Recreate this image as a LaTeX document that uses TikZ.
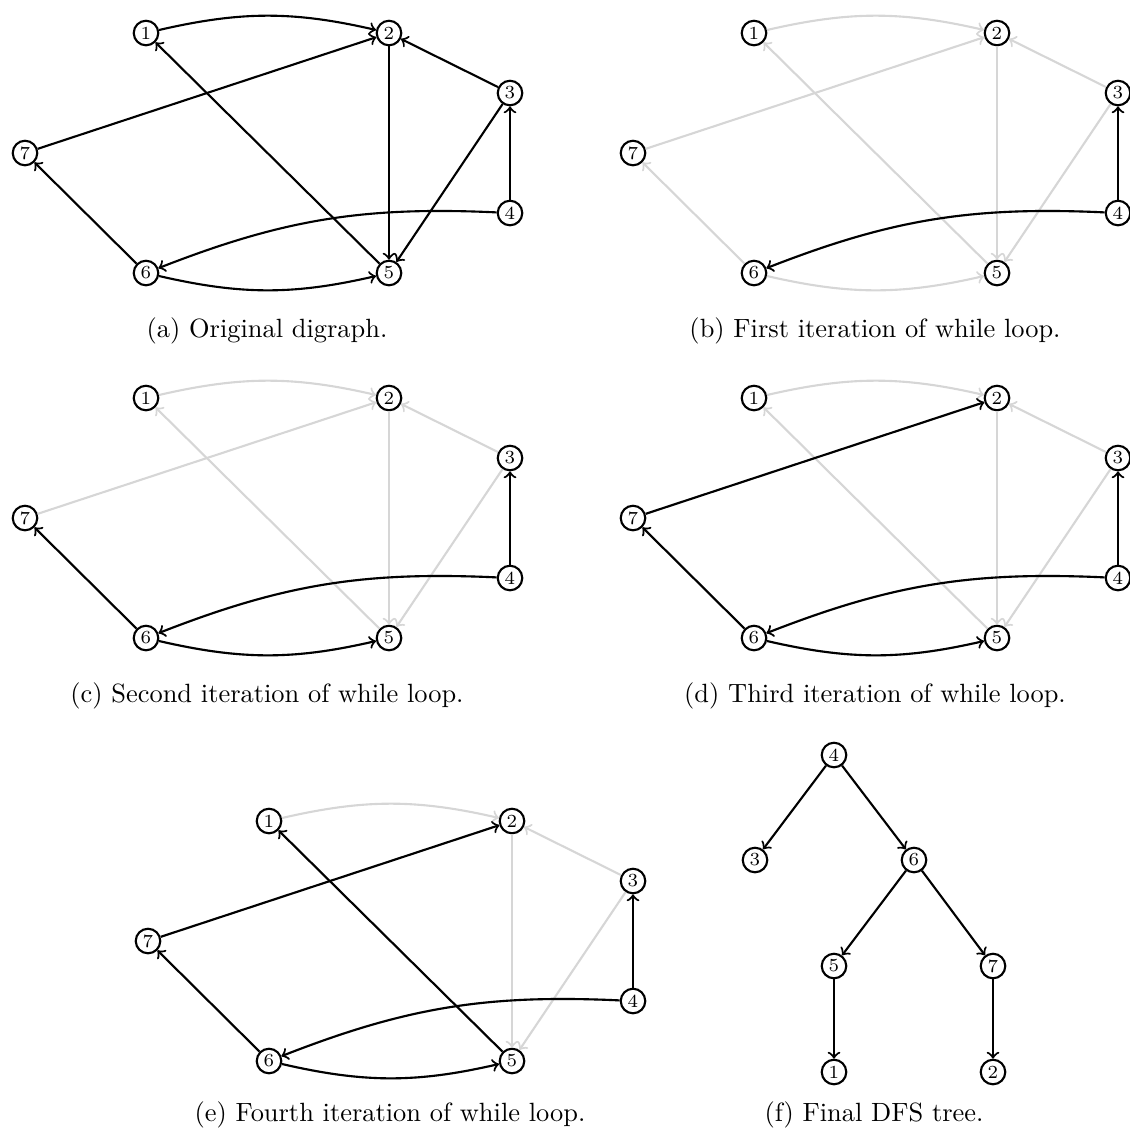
\documentclass[tikz,border=0pt]{standalone}
\begin{document}
\begin{tikzpicture}[x=0.3788pt,y=-0.3788pt,
  vtx/.style={circle,draw=black,thick,minimum size=9.3pt,inner sep=0.5pt,font=\scriptsize},
  blk/.style={->,thick,black},
  gry/.style={->,thick,black!16},
  captext/.style={anchor=base,inner sep=0pt,font=\normalsize}]
\useasboundingbox (0,0) rectangle (1130,1133);
\newcommand\graphnodes[3]{%
 \begin{scope}[shift={(#2,#3)}]
  \node[vtx] (#1-1) at (146,33) {1};
  \node[vtx] (#1-2) at (389,33) {2};
  \node[vtx] (#1-3) at (510,93) {3};
  \node[vtx] (#1-4) at (510,213) {4};
  \node[vtx] (#1-5) at (389,273) {5};
  \node[vtx] (#1-6) at (146,273) {6};
  \node[vtx] (#1-7) at (25,153) {7};
 \end{scope}}
\newcommand\graphedges[2]{%
 \draw[#2] (#1-1) to[bend left=13] (#1-2);
 \draw[#2] (#1-7) -- (#1-2);
 \draw[#2] (#1-5) -- (#1-1);
 \draw[#2] (#1-2) -- (#1-5);
 \draw[#2] (#1-3) -- (#1-2);
 \draw[#2] (#1-3) -- (#1-5);
 \draw[#2] (#1-4) -- (#1-3);
 \draw[#2] (#1-4) to[bend right=12] (#1-6);
 \draw[#2] (#1-6) to[bend right=13] (#1-5);
 \draw[#2] (#1-6) -- (#1-7);}
% (a)
\graphnodes{a}{0}{0}
\graphedges{a}{blk}
% (b)
\graphnodes{b}{608}{0}
\graphedges{b}{gry}
\draw[blk] (b-4) -- (b-3);
\draw[blk] (b-4) to[bend right=12] (b-6);
% (c)
\graphnodes{c}{0}{365}
\graphedges{c}{gry}
\draw[blk] (c-4) -- (c-3);
\draw[blk] (c-4) to[bend right=12] (c-6);
\draw[blk] (c-6) to[bend right=13] (c-5);
\draw[blk] (c-6) -- (c-7);
% (d)
\graphnodes{d}{608}{365}
\graphedges{d}{gry}
\draw[blk] (d-4) -- (d-3);
\draw[blk] (d-4) to[bend right=12] (d-6);
\draw[blk] (d-6) to[bend right=13] (d-5);
\draw[blk] (d-6) -- (d-7);
\draw[blk] (d-7) -- (d-2);
% (e)
\graphnodes{e}{123}{788}
\graphedges{e}{gry}
\draw[blk] (e-4) -- (e-3);
\draw[blk] (e-4) to[bend right=12] (e-6);
\draw[blk] (e-6) to[bend right=13] (e-5);
\draw[blk] (e-6) -- (e-7);
\draw[blk] (e-7) -- (e-2);
\draw[blk] (e-5) -- (e-1);
% (f)
\node[vtx] (f-4) at (834,755) {4};
\node[vtx] (f-3) at (755,860) {3};
\node[vtx] (f-6) at (914,860) {6};
\node[vtx] (f-5) at (834,966) {5};
\node[vtx] (f-7) at (993,966) {7};
\node[vtx] (f-1) at (834,1072) {1};
\node[vtx] (f-2) at (993,1072) {2};
\draw[blk] (f-4) -- (f-3);
\draw[blk] (f-4) -- (f-6);
\draw[blk] (f-6) -- (f-5);
\draw[blk] (f-6) -- (f-7);
\draw[blk] (f-5) -- (f-1);
\draw[blk] (f-7) -- (f-2);
% captions
\node[captext] (capa) at (267,337) {(a)~Original digraph.};
\node[captext] (capb) at (875,337) {(b)~First iteration of while loop.};
\node[captext] (capc) at (267,702) {(c)~Second iteration of while loop.};
\node[captext] (capd) at (875,702) {(d)~Third iteration of while loop.};
\node[captext] (cape) at (390,1121) {(e)~Fourth iteration of while loop.};
\node[captext] (capf) at (874,1121) {(f)~Final DFS tree.};
\end{tikzpicture}
\end{document}
